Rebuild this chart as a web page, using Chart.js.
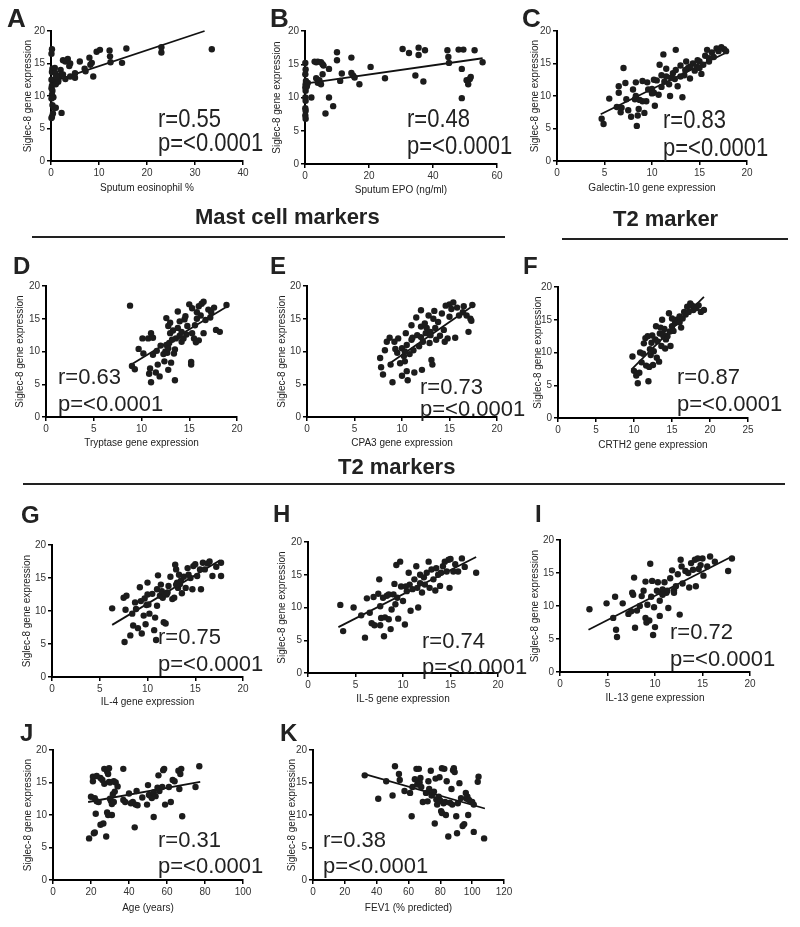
<!DOCTYPE html>
<html>
<head>
<meta charset="utf-8">
<script src="https://cdn.jsdelivr.net/npm/chart.js@4.4.1/dist/chart.umd.min.js"></script>
<style>
  body { margin: 0; background: #fff; }
  #page { position: relative; width: 800px; height: 927px; overflow: hidden; font-family: "Liberation Sans", Arial, sans-serif; color: #222; }
  canvas { position: absolute; }
  .txt { position: absolute; white-space: nowrap; line-height: 1; }
  .letter { font-weight: bold; font-size: 24px; }
  .stat { font-size: 22px; }
  .head { font-weight: bold; font-size: 22px; }
  .rule { position: absolute; height: 2px; background: #222; }
</style>
</head>
<body>
<div id="page"></div>
<script>
// ---- data ----
const panelLetters = ['A', 'B', 'C', 'D', 'E', 'F', 'G', 'H', 'I', 'J', 'K'];
const xTitles = ['Sputum eosinophil %', 'Sputum EPO (ng/ml)', 'Galectin-10 gene expression',
  'Tryptase gene expression', 'CPA3 gene expression', 'CRTH2 gene expression',
  'IL-4 gene expression', 'IL-5 gene expression', 'IL-13 gene expression',
  'Age (years)', 'FEV1 (% predicted)'];
const yTitle = 'Siglec-8 gene expression';
const rValues = ['0.55', '0.48', '0.83', '0.63', '0.73', '0.87', '0.75', '0.74', '0.72', '0.31', '0.38'];
const pText = 'p=<0.0001';
const xMaxes = [40, 60, 20, 20, 20, 25, 20, 20, 20, 100, 120];
const xSteps = [10, 20, 5, 5, 5, 5, 5, 5, 5, 20, 20];
const headers = ['Mast cell markers', 'T2 marker', 'T2 markers'];

const eosinophilPts = [[0.2,17.2],[0.1,16.5],[0.3,14.2],[0.5,14.0],[0.2,13.7],[0.1,12.5],[0.4,12.0],[0.2,11.6],[0.1,11.2],[0.3,10.8],[0.2,10.2],[0.5,9.8],[0.1,9.6],[0.3,8.6],[0.6,8.2],[0.4,7.3],[0.2,6.8],[0.1,6.6],[0.8,14.3],[0.9,13.5],[1.2,12.8],[0.7,12.5],[1.5,12.2],[1.0,11.8],[1.4,12.9],[1.8,13.1],[1.0,8.2],[2.2,7.4],[2.5,15.5],[3.0,15.3],[3.5,15.7],[4.0,15.0],[3.8,14.6],[2.0,14.0],[2.5,13.3],[3.0,12.6],[4.0,13.0],[1.5,12.4],[1.1,13.0],[5.0,13.5],[5.0,12.8],[6.0,15.3],[7.0,14.2],[7.2,13.8],[8.0,15.9],[8.5,15.1],[8.2,14.8],[8.8,13.0],[9.5,16.8],[10.2,17.1],[12.2,17.0],[12.3,16.1],[12.4,15.2],[14.8,15.1],[15.7,17.3],[23.0,17.5],[23.0,16.7],[33.5,17.2]];
const eosinophilFit = [[0.3,12.2],[32,20]];

const epoPts = [[0.1,15.2],[0.2,14.2],[0.1,13.5],[0.3,12.5],[0.2,12.0],[0.1,11.5],[0.2,11.0],[0.1,10.0],[0.2,9.5],[0.1,8.4],[0.2,8.0],[0.1,7.3],[0.2,6.8],[0.6,11.8],[0.9,12.2],[0.5,11.6],[2.0,10.0],[3.0,15.4],[3.5,15.3],[4.0,15.4],[5.0,15.3],[5.5,15.0],[5.8,14.8],[3.5,12.9],[4.5,12.6],[4.0,12.2],[5.0,12.0],[5.5,13.5],[6.4,7.6],[7.5,14.3],[7.5,10.0],[8.8,8.7],[10.0,16.8],[10.0,15.6],[11.0,12.5],[11.5,13.6],[14.5,16.0],[14.5,13.7],[15.0,13.3],[15.5,13.0],[17.0,12.0],[20.5,14.6],[25.0,12.9],[30.5,17.3],[32.5,16.7],[34.5,13.3],[35.5,17.5],[35.5,16.4],[37.0,12.4],[37.5,17.1],[44.5,17.1],[44.8,16.1],[45.0,15.2],[48.0,17.2],[49.5,17.2],[49.0,14.3],[49.0,9.9],[50.5,12.6],[51.0,12.0],[51.5,12.8],[51.8,13.1],[53.0,17.1],[55.5,15.3]];
const epoFit = [[0,12.1],[55.5,15.9]];

const galectinPts = [[4.7,6.5],[4.9,5.7],[5.5,9.6],[6.3,8.3],[6.5,11.5],[6.5,10.5],[6.7,7.5],[7.0,14.3],[7.2,12.0],[7.3,9.5],[7.5,7.8],[7.8,6.8],[8.0,11.0],[8.2,9.5],[8.3,12.1],[8.3,10.0],[8.4,5.4],[8.5,7.0],[8.6,8.0],[9.0,12.3],[9.2,7.4],[9.4,9.2],[9.5,12.1],[9.6,11.0],[10.0,11.1],[10.2,10.5],[10.3,8.5],[10.5,12.4],[10.7,10.2],[10.8,14.8],[11.0,13.2],[11.2,16.4],[11.3,12.2],[11.5,14.2],[11.8,11.8],[11.9,10.0],[12.2,13.5],[12.4,12.6],[12.5,17.1],[12.7,11.5],[13.0,14.7],[13.2,9.8],[13.4,13.2],[13.6,15.3],[13.8,14.3],[14.0,12.7],[14.3,15.0],[14.5,13.9],[14.7,14.5],[15.0,15.3],[15.2,13.4],[15.4,14.8],[15.6,16.2],[15.8,17.1],[16.0,15.3],[16.3,16.7],[16.5,16.0],[16.8,17.3],[17.0,16.9],[17.3,17.5],[17.6,17.2],[17.8,16.9],[12.0,12.8],[13.0,13.0],[14.0,14.5],[15.0,14.3],[10.0,10.4],[9.0,9.2],[11.0,11.4],[12.5,14.0],[13.5,14.0],[16.0,15.8],[17.0,17.2],[14.8,15.5],[10.2,12.5],[8.7,9.4],[11.5,13.0],[6.8,8.2]];
const galectinFit = [[4.6,7.2],[18,16.8]];

const tryptasePts = [[8.8,17.0],[9.0,7.8],[9.3,7.3],[9.7,10.4],[10.1,12.0],[10.2,9.7],[10.7,12.0],[10.8,6.6],[10.9,7.4],[11.0,5.3],[11.0,12.8],[11.2,12.1],[11.2,9.5],[11.5,6.8],[11.6,10.1],[11.7,8.0],[11.9,6.2],[12.0,10.9],[12.3,9.6],[12.4,8.5],[12.5,10.0],[12.6,15.1],[12.6,11.0],[12.7,9.8],[12.8,7.2],[12.8,13.9],[12.9,11.3],[13.0,14.4],[13.0,12.8],[13.1,8.3],[13.3,13.2],[13.4,9.7],[13.5,5.6],[13.5,10.3],[13.6,12.0],[13.8,16.1],[13.8,13.6],[14.0,12.4],[14.0,14.6],[14.2,11.5],[14.4,12.0],[14.5,14.9],[14.6,15.4],[14.7,12.6],[14.8,13.9],[15.0,17.2],[15.2,8.4],[15.2,8.0],[15.3,12.8],[15.3,16.6],[15.5,12.0],[15.6,14.0],[15.8,16.0],[15.8,15.0],[16.0,11.7],[16.0,16.9],[16.2,15.5],[16.3,17.3],[16.5,17.6],[16.5,12.8],[16.7,14.8],[17.0,16.4],[17.2,15.2],[17.3,16.0],[17.6,16.7],[17.8,13.3],[18.2,13.0],[18.9,17.1],[15.7,11.4],[14.2,13.0],[13.2,11.8],[12.8,10.5]];
const tryptaseFit = [[8.8,7.9],[19,16.9]];

const cpa3Pts = [[7.7,9.0],[7.8,7.6],[8.0,6.5],[8.2,10.2],[8.4,11.5],[8.7,12.1],[8.8,8.0],[9.0,5.3],[9.2,11.5],[9.3,10.4],[9.6,12.0],[9.8,8.2],[10.0,10.5],[10.0,6.3],[10.2,9.3],[10.3,8.5],[10.4,12.8],[10.5,11.0],[10.5,7.0],[10.6,5.6],[10.8,9.6],[11.0,14.0],[11.1,12.1],[11.2,10.2],[11.3,6.8],[11.5,15.2],[11.6,12.5],[11.8,10.8],[12.0,16.3],[12.0,13.8],[12.1,7.2],[12.2,11.5],[12.4,14.3],[12.5,12.8],[12.6,13.6],[12.8,15.5],[12.9,11.3],[13.0,13.0],[13.1,8.7],[13.2,8.0],[13.3,15.0],[13.4,16.2],[13.5,13.6],[13.6,11.8],[13.8,14.5],[14.0,12.4],[14.2,15.8],[14.4,13.3],[14.5,11.5],[14.6,17.0],[14.8,12.0],[15.0,17.2],[15.0,15.3],[15.2,16.5],[15.4,17.5],[15.6,12.1],[15.8,16.7],[16.0,15.5],[16.4,16.0],[16.8,15.5],[17.0,13.0],[17.2,15.0],[17.3,14.7],[17.4,17.1],[16.5,16.9],[13.0,12.5],[12.0,12.2],[11.0,11.8],[9.5,9.8],[10.3,10.0]];
const cpa3Fit = [[8.8,8.3],[17.7,17.2]];

const crth2Pts = [[9.8,9.4],[10.0,7.2],[10.3,6.5],[10.5,5.3],[10.7,6.9],[10.8,10.0],[11.0,8.5],[11.2,9.8],[11.3,11.4],[11.5,12.2],[11.6,8.0],[11.8,12.5],[11.9,5.6],[12.0,7.8],[12.1,10.5],[12.2,9.6],[12.3,11.5],[12.5,8.1],[12.6,10.2],[12.8,12.0],[12.9,14.0],[13.0,9.2],[13.1,11.7],[13.3,8.6],[13.4,12.9],[13.5,13.8],[13.6,11.0],[13.7,15.0],[13.9,12.4],[14.0,13.6],[14.1,10.6],[14.2,12.0],[14.4,12.5],[14.6,16.0],[14.7,13.2],[14.8,11.0],[15.0,14.0],[15.2,13.3],[15.4,14.5],[15.6,15.0],[15.8,14.8],[16.0,15.5],[16.2,13.8],[16.4,15.2],[16.6,16.2],[16.8,15.8],[17.0,17.0],[17.2,16.2],[17.4,17.5],[17.6,17.2],[17.8,16.5],[18.0,17.0],[18.2,16.8],[18.5,17.2],[18.8,16.2],[19.2,16.5],[15.0,15.2],[16.0,14.6],[12.4,12.6],[13.8,12.8]];
const crth2Fit = [[9.65,7.4],[19.2,18.5]];

const il4Pts = [[6.3,10.4],[7.5,12.0],[7.6,5.3],[7.7,10.2],[7.8,12.3],[8.2,6.3],[8.4,9.6],[8.5,7.8],[8.7,11.3],[8.8,10.3],[9.0,7.4],[9.2,13.6],[9.3,11.5],[9.4,6.6],[9.6,9.3],[9.7,11.9],[9.8,8.0],[9.9,10.9],[10.0,12.5],[10.0,14.3],[10.1,11.0],[10.2,9.6],[10.5,12.6],[10.7,7.1],[10.8,9.0],[10.9,5.6],[11.0,13.3],[11.0,10.8],[11.1,15.4],[11.3,12.3],[11.4,14.0],[11.5,13.0],[11.6,12.0],[11.7,8.3],[11.8,12.6],[11.9,8.1],[12.0,12.5],[12.2,13.8],[12.4,15.2],[12.6,11.8],[12.8,12.0],[12.9,17.0],[13.0,16.3],[13.1,14.3],[13.2,13.5],[13.3,15.5],[13.4,14.1],[13.5,14.6],[13.6,12.7],[13.8,15.2],[14.0,13.5],[14.2,16.5],[14.3,15.5],[14.5,15.0],[14.7,13.3],[14.8,16.8],[15.0,17.1],[15.2,15.3],[15.5,16.3],[15.6,13.3],[15.8,17.3],[16.0,16.3],[16.3,17.2],[16.5,17.5],[16.8,15.3],[17.2,16.7],[17.7,17.3],[17.7,15.3],[12.1,12.8],[13.0,14.0]];
const il4Fit = [[6.3,7.9],[17.6,17.7]];

const il5Pts = [[3.4,10.4],[3.7,6.4],[4.8,10.0],[5.6,8.8],[6.0,5.4],[6.2,11.4],[6.5,9.2],[6.7,7.6],[6.9,11.6],[7.0,7.3],[7.4,12.1],[7.5,14.3],[7.6,10.2],[7.6,7.3],[7.7,8.4],[7.9,11.5],[8.0,5.6],[8.1,8.5],[8.3,11.8],[8.5,12.0],[8.5,8.2],[8.7,6.7],[8.8,9.7],[9.0,12.0],[9.1,13.6],[9.2,10.5],[9.3,16.5],[9.4,11.5],[9.5,8.3],[9.7,17.0],[9.8,13.2],[10.0,11.0],[10.2,7.4],[10.4,12.5],[10.6,15.3],[10.7,13.5],[10.8,9.5],[11.0,12.8],[11.2,14.3],[11.4,16.3],[11.5,13.0],[11.6,10.0],[11.8,15.0],[12.0,12.3],[12.2,14.6],[12.3,13.5],[12.5,15.3],[12.7,17.0],[12.8,13.0],[13.0,15.8],[13.2,14.3],[13.4,12.6],[13.5,16.0],[13.7,15.0],[13.9,13.3],[14.0,15.3],[14.2,16.3],[14.4,17.0],[14.6,15.5],[14.8,17.3],[14.9,13.0],[15.0,17.4],[15.3,15.5],[15.5,16.6],[15.8,15.5],[16.2,17.5],[16.5,16.2],[17.7,15.3],[10.3,13.2],[11.8,13.7]];
const il5Fit = [[3.2,7.0],[17.7,17.7]];

const il13Pts = [[3.1,9.5],[4.9,10.4],[5.6,8.2],[5.8,11.4],[5.9,6.4],[6.0,5.3],[6.6,10.4],[7.2,8.8],[7.5,9.2],[7.6,12.0],[7.7,11.7],[7.8,14.3],[7.9,6.7],[8.1,9.3],[8.4,10.0],[8.6,11.5],[8.8,12.3],[9.0,13.7],[9.0,8.2],[9.1,7.5],[9.2,10.2],[9.4,7.8],[9.5,16.4],[9.6,11.4],[9.7,13.8],[9.8,5.6],[9.9,9.8],[10.0,6.8],[10.2,12.3],[10.3,13.6],[10.5,8.5],[10.5,10.8],[10.7,12.0],[10.8,12.5],[11.0,13.6],[11.2,12.0],[11.3,12.3],[11.4,9.7],[11.6,14.2],[11.8,15.4],[12.0,12.4],[12.2,13.0],[12.4,14.8],[12.6,8.7],[12.7,17.0],[12.8,16.0],[12.9,13.4],[13.2,15.3],[13.5,15.0],[13.6,12.8],[13.8,16.5],[14.0,15.5],[14.2,17.0],[14.3,13.0],[14.5,17.2],[14.6,15.6],[14.8,16.2],[15.0,17.2],[15.1,14.6],[15.5,16.0],[15.8,17.5],[16.3,16.7],[17.7,15.3],[18.1,17.2],[10.8,11.7],[12.0,12.0]];
const il13Fit = [[3.0,6.4],[18.1,17.5]];

const agePts = [[19,6.4],[20,12.8],[21,15.9],[21,15.2],[21.5,7.2],[22,12.6],[22,7.3],[22.5,10.2],[23,16.0],[23,12.1],[24,12.0],[25,15.7],[25,8.5],[26,15.4],[26.5,8.7],[27,17.1],[27,14.8],[28,6.7],[28.5,10.4],[28.5,16.7],[29,16.3],[29,10.0],[29.5,17.2],[29.5,15.1],[30,12.5],[30,15.0],[30.5,12.2],[31,11.7],[31,10.0],[31.5,13.2],[32,15.2],[32,12.0],[32.5,13.6],[33,15.0],[34,14.4],[37,17.1],[37,12.3],[38,12.0],[40,13.3],[41,11.8],[42,12.0],[43,8.1],[43.5,11.6],[44,13.7],[44.5,11.5],[47,12.7],[49.5,11.6],[50,14.6],[50.5,13.1],[51,13.0],[52,12.6],[53,9.7],[53,13.5],[54,12.9],[55,14.2],[55.5,16.1],[56,13.7],[57.5,14.3],[58,16.9],[58.5,17.1],[59,11.6],[61,14.3],[62,12.0],[63,15.4],[64,15.2],[66,16.8],[66.5,14.0],[67,16.3],[67.5,17.1],[68,9.8],[75,14.3],[77,17.5]];
const ageFit = [[18.5,12.0],[77.5,15.1]];

const fev1Pts = [[32.5,16.1],[41,12.5],[46,15.2],[50,13.0],[51.5,17.5],[54,16.3],[54.5,15.4],[57.5,13.7],[61,13.4],[62,9.8],[62.5,14.3],[64,15.5],[65,17.1],[65.5,14.7],[66.5,17.1],[67,15.0],[67.5,15.7],[68,14.3],[69,12.0],[71,13.4],[72,12.1],[72.5,15.2],[73,14.0],[74,16.8],[74.5,13.0],[75,13.2],[76,13.6],[76.5,8.7],[77,15.6],[77.5,12.4],[78,11.6],[79,12.8],[79.5,15.8],[80,12.2],[80.5,10.6],[81,17.2],[81,10.3],[82,11.8],[82.5,17.1],[83,12.0],[83.5,10.0],[84,15.2],[85,6.7],[86,11.9],[87,14.0],[87.5,11.6],[88,16.9],[88.5,17.2],[89,16.6],[90,9.8],[90.5,7.2],[91,11.8],[92,14.9],[93,12.6],[94,8.3],[95,8.6],[96,13.4],[96.5,12.5],[97,12.8],[97.5,10.0],[98,12.3],[100,12.0],[101,7.4],[101,11.6],[103.5,15.1],[104,15.9],[107.5,6.4]];
const fev1Fit = [[32.5,16.3],[108,11.0]];

const seriesPts = [eosinophilPts, epoPts, galectinPts, tryptasePts, cpa3Pts, crth2Pts, il4Pts, il5Pts, il13Pts, agePts, fev1Pts];
const seriesFit = [eosinophilFit, epoFit, galectinFit, tryptaseFit, cpa3Fit, crth2Fit, il4Fit, il5Fit, il13Fit, ageFit, fev1Fit];

// ---- page layout (plot box l,t,r,b; gaps to axis titles; letter & stat positions) ----
const boxes = {
  A: {l:51, t:31, r:243, b:161, yGap:23, xGap:27, letter:[7,7], stat:[158,128,152], tall:true},
  B: {l:305, t:31, r:497, b:164, yGap:28, xGap:26, letter:[270,7], stat:[407,128,155], tall:true},
  C: {l:557, t:31, r:747, b:161, yGap:22, xGap:27, letter:[522,7], stat:[663,129,157], tall:true},
  D: {l:46, t:286, r:237, b:417, yGap:26, xGap:26, letter:[13,254], stat:[58,385,412]},
  E: {l:307, t:286, r:497, b:417, yGap:25, xGap:26, letter:[270,254], stat:[420,395,417]},
  F: {l:558, t:287, r:748, b:418, yGap:20, xGap:27, letter:[523,254], stat:[677,385,412]},
  G: {l:52, t:545, r:243, b:677, yGap:25, xGap:25, letter:[21,503], stat:[158,645,672]},
  H: {l:308, t:542, r:498, b:673, yGap:26, xGap:26, letter:[273,502], stat:[422,649,675]},
  I: {l:560, t:540, r:750, b:672, yGap:25, xGap:26, letter:[535,502], stat:[670,640,667]},
  J: {l:53, t:750, r:243, b:880, yGap:25, xGap:28, letter:[20,721], stat:[158,848,874]},
  K: {l:313, t:750, r:504, b:880, yGap:21, xGap:28, letter:[280,721], stat:[323,848,874]}
};
const headerPos = [[195,225], [613,227], [338,475]];
const rules = [[32,236,473], [562,238,226], [23,483,762]];

const page = document.getElementById('page');
const FONT = '"Liberation Sans", Arial, sans-serif';

function addText(cls, text, left, baseline, size, tall) {
  const d = document.createElement('div');
  d.className = 'txt ' + cls;
  d.textContent = text;
  d.style.fontSize = size + 'px';
  const asc = size * 0.8465;
  d.style.left = left + 'px';
  d.style.top = (baseline - asc) + 'px';
  if (tall) {
    d.style.transformOrigin = '0 ' + asc + 'px';
    d.style.transform = 'scaleY(1.18)';
  }
  page.appendChild(d);
}

panelLetters.forEach((key, i) => {
  const bx = boxes[key];
  const padL = 45, padT = 10, padR = 15;
  const yW = bx.yGap + 8;
  const xH = bx.xGap + 7;
  const cv = document.createElement('canvas');
  cv.width = (bx.r - bx.l) + padL + padR;
  cv.height = (bx.b - bx.t) + padT + xH;
  cv.style.left = (bx.l - padL) + 'px';
  cv.style.top = (bx.t - padT) + 'px';
  page.appendChild(cv);

  const axisCommon = {
    grid: { drawOnChartArea: false, drawTicks: true, tickLength: 4, color: '#000', lineWidth: 1.5 },
    border: { display: true, color: '#000', width: 2 },
    ticks: { color: '#333', font: { family: FONT, size: 10 }, padding: 2, maxRotation: 0, autoSkip: false }
  };

  new Chart(cv, {
    type: 'scatter',
    data: {
      datasets: [
        { data: seriesPts[i].map(p => ({x: p[0], y: p[1]})), pointRadius: 3.2, pointBackgroundColor: '#1c1c1c',
          pointBorderWidth: 0, showLine: false, clip: false },
        { data: seriesFit[i].map(p => ({x: p[0], y: p[1]})), showLine: true, pointRadius: 0,
          borderColor: '#111', borderWidth: 1.8, clip: false }
      ]
    },
    options: {
      responsive: false,
      animation: false,
      events: [],
      layout: { padding: { left: padL - yW, top: padT, right: padR, bottom: 0 } },
      plugins: { legend: { display: false }, tooltip: { enabled: false } },
      scales: {
        x: {
          type: 'linear', min: 0, max: xMaxes[i],
          ...axisCommon,
          ticks: { ...axisCommon.ticks, stepSize: xSteps[i] },
          title: { display: true, text: xTitles[i], color: '#222', font: { family: FONT, size: 10 }, padding: { top: 0, bottom: 1 } },
          afterFit: s => { s.height = xH; }
        },
        y: {
          type: 'linear', min: 0, max: 20,
          ...axisCommon,
          ticks: { ...axisCommon.ticks, stepSize: 5 },
          title: { display: true, text: yTitle, color: '#222', font: { family: FONT, size: 10 }, padding: { top: 2, bottom: 0 } },
          afterFit: s => { s.width = yW; }
        }
      }
    }
  });

  addText('letter', key, bx.letter[0], bx.letter[1] + 20, bx.tall ? 26 : 24, false);
  addText('stat', 'r=' + rValues[i], bx.stat[0], bx.stat[1], 22, bx.tall);
  addText('stat', pText, bx.stat[0], bx.stat[2], 22, bx.tall);
});

headers.forEach((h, i) => addText('head', h, headerPos[i][0], headerPos[i][1], 22, false));
rules.forEach(r => {
  const d = document.createElement('div');
  d.className = 'rule';
  d.style.left = r[0] + 'px';
  d.style.top = r[1] + 'px';
  d.style.width = r[2] + 'px';
  page.appendChild(d);
});
</script>
</body>
</html>
